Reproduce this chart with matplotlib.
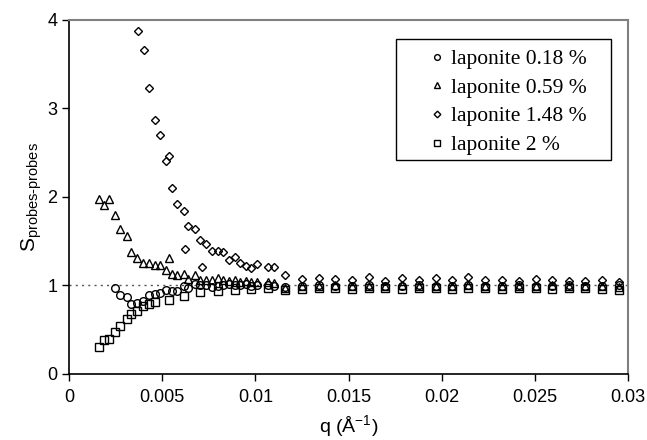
import numpy as np
import matplotlib
matplotlib.use("Agg")
import matplotlib.pyplot as plt
from matplotlib.patches import Rectangle

plt.rcParams["font.family"] = ["Liberation Sans", "DejaVu Sans"]
plt.rcParams["mathtext.fontset"] = "custom"
plt.rcParams["mathtext.rm"] = "Liberation Sans"
plt.rcParams["mathtext.it"] = "Liberation Sans"

# high-q grid shared by all series
q_high = [0.0125, 0.01343, 0.01429, 0.0152, 0.01611, 0.01696, 0.01787, 0.01876, 0.01968, 0.02057,
          0.02143, 0.02234, 0.02324, 0.02416, 0.02506, 0.02592, 0.02681, 0.0277, 0.0286, 0.0295]

# laponite 0.18 %
q_c = [0.00249, 0.00274, 0.0031, 0.00333, 0.00367, 0.00399, 0.00428, 0.0046, 0.00487, 0.0052,
       0.00551, 0.00581, 0.00617, 0.0064, 0.00676, 0.00703, 0.00735, 0.00766, 0.00798, 0.00828,
       0.00857, 0.00889, 0.00918, 0.00948, 0.00977, 0.01009, 0.01068, 0.01102, 0.01159] + q_high
s_c = [0.97, 0.89, 0.86, 0.79, 0.80, 0.82, 0.89, 0.90, 0.91, 0.95,
       0.93, 0.93, 0.99, 0.97, 1.01, 1.00, 1.00, 0.98, 0.99, 1.00,
       1.01, 1.00, 1.00, 1.01, 0.99, 1.00, 1.00, 0.99, 0.98,
       0.99, 1.00, 0.99, 0.99, 1.00, 0.99, 0.99, 1.00, 0.99, 0.99,
       1.00, 0.99, 0.99, 1.00, 0.99, 0.99, 1.00, 0.99, 0.99, 1.00]

# laponite 0.59 %
q_t = [0.00163, 0.00189, 0.00215, 0.00249, 0.00274, 0.0031, 0.00333, 0.00367, 0.00399, 0.00428,
       0.0046, 0.00487, 0.0052, 0.00535, 0.00551, 0.00581, 0.00617, 0.0064, 0.00676, 0.00703,
       0.00735, 0.00766, 0.00798, 0.00828, 0.00857, 0.00889, 0.00918, 0.00948, 0.00977, 0.01009,
       0.01068, 0.01102, 0.01159] + q_high
s_t = [1.98, 1.91, 1.98, 1.79, 1.63, 1.56, 1.37, 1.31, 1.25, 1.25,
       1.23, 1.23, 1.17, 1.31, 1.13, 1.12, 1.13, 1.07, 1.11, 1.06,
       1.06, 1.06, 1.08, 1.06, 1.05, 1.06, 1.04, 1.05, 1.04, 1.03,
       1.03, 1.02, 0.97,
       0.99, 0.99, 1.00, 0.99, 0.99, 0.99, 1.00, 0.99, 0.99, 0.99,
       1.00, 0.99, 0.99, 0.99, 0.99, 1.00, 0.99, 0.99, 0.99, 0.98]

# laponite 1.48 %
q_d = [0.00369, 0.00402, 0.00428, 0.00461, 0.00487, 0.0052, 0.00537, 0.00551, 0.00581, 0.00617,
       0.00622, 0.0064, 0.00676, 0.00703, 0.00712, 0.00735, 0.00766, 0.00798, 0.00828, 0.00857,
       0.00889, 0.00918, 0.00948, 0.00977, 0.01009, 0.01068, 0.01102, 0.01159] + q_high
s_d = [3.88, 3.66, 3.23, 2.87, 2.70, 2.41, 2.46, 2.10, 1.92, 1.84,
       1.41, 1.67, 1.63, 1.51, 1.20, 1.46, 1.39, 1.39, 1.38, 1.28,
       1.32, 1.25, 1.22, 1.19, 1.24, 1.21, 1.20, 1.11,
       1.07, 1.08, 1.07, 1.06, 1.09, 1.05, 1.08, 1.06, 1.08, 1.06,
       1.09, 1.06, 1.06, 1.05, 1.07, 1.06, 1.05, 1.05, 1.06, 1.04]

# laponite 2 %
q_s = [0.00163, 0.00189, 0.00215, 0.00249, 0.00274, 0.0031, 0.00333, 0.00367, 0.00399, 0.00428,
       0.0046, 0.00535, 0.00617, 0.00703, 0.008, 0.00889, 0.00977, 0.01068, 0.01159] + q_high
s_s = [0.30, 0.38, 0.39, 0.47, 0.54, 0.62, 0.67, 0.71, 0.76, 0.79,
       0.81, 0.83, 0.88, 0.92, 0.93, 0.94, 0.96, 0.97, 0.95,
       0.96, 0.97, 0.97, 0.96, 0.97, 0.97, 0.96, 0.97, 0.97, 0.96,
       0.97, 0.97, 0.96, 0.97, 0.97, 0.96, 0.97, 0.97, 0.96, 0.95]

labels = ["laponite 0.18 %", "laponite 0.59 %", "laponite 1.48 %", "laponite 2 %"]

W, H = 647, 440
fig = plt.figure(figsize=(6.47, 4.4), dpi=100)
ax = fig.add_axes([69 / W, 1 - 373.5 / H, 559 / W, 353.5 / H])

ax.plot([0, 0.03], [1, 1], color="#555555", linestyle=(0, (1.5, 3)), linewidth=1, zorder=1)

mk = dict(linestyle="none", markerfacecolor="none", markeredgecolor="black",
          markeredgewidth=1, zorder=3)
ax.plot(q_c, s_c, marker="o", markersize=5.5, label=labels[0], **mk)
ax.plot(q_t, s_t, marker="^", markersize=6, label=labels[1], **mk)
ax.plot(q_d, s_d, marker="D", markersize=4.5, label=labels[2], **mk)
ax.plot(q_s, s_s, marker="s", markersize=5.5, label=labels[3], **mk)

ax.set_xlim(0, 0.03)
ax.set_ylim(0, 4)
ax.set_xticks([0, 0.005, 0.01, 0.015, 0.02, 0.025, 0.03])
ax.set_xticklabels(["0", "0.005", "0.01", "0.015", "0.02", "0.025", "0.03"])
ax.set_yticks([0, 1, 2, 3, 4])
ax.tick_params(axis="both", direction="out", length=5, width=1, labelsize=13)
ax.tick_params(axis="x", pad=6)

for side in ["top", "right"]:
    ax.spines[side].set_color("#808080")
    ax.spines[side].set_linewidth(1.5)
for side in ["left", "bottom"]:
    ax.spines[side].set_linewidth(1.2)

ax.set_xlabel("q (Å$^{-1}$)", fontsize=14, labelpad=5)
ax.set_ylabel("S$_{\\mathrm{probes\\text{-}probes}}$", fontsize=15, labelpad=2)

# legend box drawn separately so the padding matches the original
box = Rectangle((396 / W, 1 - 160 / H), 215 / W, 121 / H, transform=fig.transFigure,
                facecolor="white", edgecolor="black", linewidth=1, zorder=5, clip_on=False)
ax.add_patch(box)
leg = ax.legend(loc="upper left", bbox_to_anchor=(428 / W, 1 - 49 / H),
                bbox_transform=fig.transFigure, borderaxespad=0, borderpad=0,
                frameon=False, markerscale=0.75, handlelength=0.8,
                handletextpad=0.25, labelspacing=0.4,
                prop={"family": "Liberation Serif", "size": 15.5})
leg.set_zorder(6)

fig.savefig("out.png", dpi=100)
